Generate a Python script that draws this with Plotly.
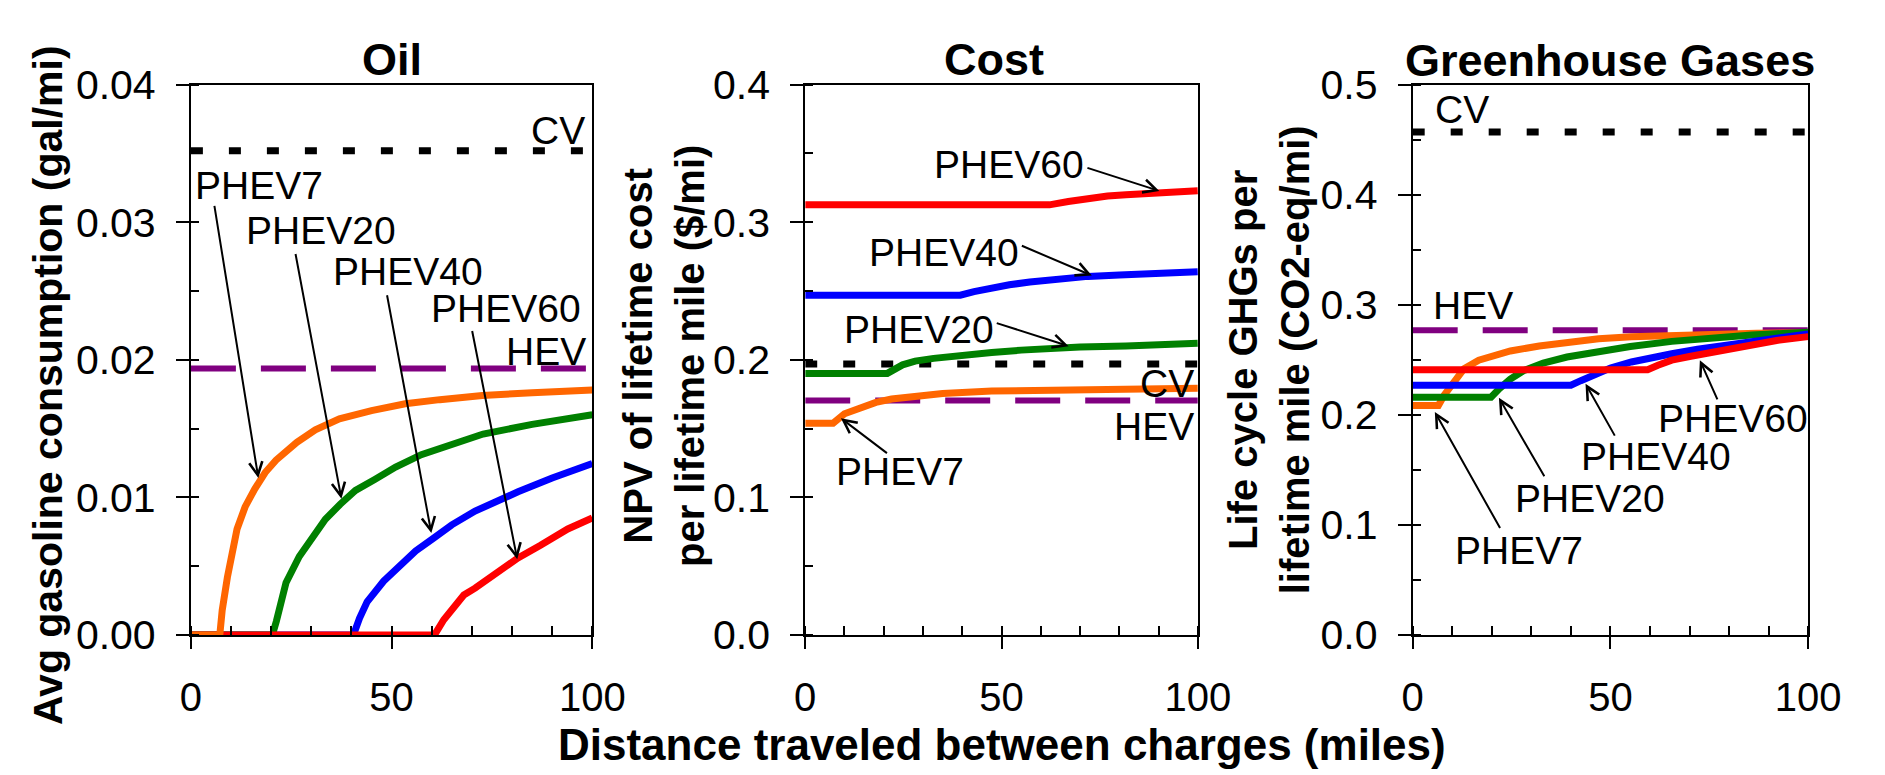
import plotly.graph_objects as go

# ---------------- DATA ----------------
# Oil panel (gal/mi)
oil_phev7_x = [0, 7.2, 7.8, 9.1, 11.5, 13.5, 15.9, 18.5, 21.2, 26.4, 31, 37.0, 45, 53.4, 62, 72.6, 85, 100]
oil_phev7_y = [0, 0, 0.0018, 0.0042, 0.0077, 0.0093, 0.0106, 0.0118, 0.0127, 0.0140, 0.0149, 0.0157, 0.0163, 0.0168, 0.0171, 0.0174, 0.0176, 0.0178]
oil_phev20_x = [0, 20.3, 21.3, 23.7, 27, 30.4, 33.5, 37.2, 41, 45.8, 51, 57.4, 65, 72.8, 85, 100]
oil_phev20_y = [0, 0, 0.0010, 0.0038, 0.0057, 0.0072, 0.0084, 0.0095, 0.0105, 0.0113, 0.0122, 0.0131, 0.0139, 0.0146, 0.0153, 0.0160]
oil_phev40_x = [0, 40.5, 42, 43.9, 48, 52.6, 56, 60.3, 65, 70.8, 76, 81.5, 90, 100]
oil_phev40_y = [0, 0, 0.0012, 0.0024, 0.0039, 0.0051, 0.0061, 0.0070, 0.0080, 0.0090, 0.0097, 0.0104, 0.0114, 0.01245]
oil_phev60_x = [0, 60.7, 63, 66.2, 68, 70.8, 76, 81.5, 87, 93.9, 100]
oil_phev60_y = [0, 0, 0.0011, 0.0022, 0.0029, 0.0034, 0.0045, 0.0056, 0.0065, 0.0077, 0.0085]
oil_cv = 0.0352
oil_hev = 0.01936

# Cost panel ($/mi)
cost_phev7_x = [0, 7.1, 10, 14, 18, 22, 27.7, 35, 47.5, 60, 75, 100]
cost_phev7_y = [0.1539, 0.1539, 0.1607, 0.1655, 0.169, 0.1715, 0.1737, 0.1755, 0.1772, 0.1778, 0.1785, 0.1792]
cost_phev20_x = [0, 20.9, 24.8, 28, 32.7, 40, 47.5, 55, 62.2, 70, 81.7, 90, 100]
cost_phev20_y = [0.1901, 0.1901, 0.1963, 0.199, 0.201, 0.2035, 0.2052, 0.207, 0.2086, 0.2092, 0.21, 0.2105, 0.212]
cost_phev40_x = [0, 39.5, 43, 47.5, 52, 57.2, 65, 72, 80, 86.7, 93, 100]
cost_phev40_y = [0.2469, 0.2469, 0.2495, 0.2523, 0.2545, 0.2565, 0.2587, 0.2606, 0.2616, 0.2626, 0.2632, 0.264]
cost_phev60_x = [0, 62.2, 67, 72, 77, 81.7, 86, 91.7, 100]
cost_phev60_y = [0.3126, 0.3126, 0.315, 0.3174, 0.319, 0.320, 0.3208, 0.3215, 0.3228]
cost_cv = 0.197
cost_hev = 0.1703

# Greenhouse gas panel (CO2-eq/mi)
ghg_phev7_x = [0, 6.5, 8, 10.6, 13, 16.7, 20, 24.7, 32, 40, 47, 55.3, 65, 75.6, 87, 100]
ghg_phev7_y = [0.2085, 0.2085, 0.218, 0.230, 0.242, 0.2496, 0.2535, 0.258, 0.2625, 0.2667, 0.269, 0.271, 0.2722, 0.2735, 0.2742, 0.2746]
ghg_phev20_x = [0, 19.8, 22, 24.7, 28, 33, 39, 45, 55, 65.5, 75, 85.7, 100]
ghg_phev20_y = [0.216, 0.216, 0.224, 0.2325, 0.24, 0.247, 0.2525, 0.2566, 0.262, 0.2667, 0.2698, 0.2726, 0.275]
ghg_phev40_x = [0, 40, 42.5, 45, 50, 55.3, 60, 65.5, 72, 80.8, 90, 100]
ghg_phev40_y = [0.2268, 0.2268, 0.231, 0.235, 0.2425, 0.248, 0.252, 0.2555, 0.2595, 0.264, 0.2685, 0.2735]
ghg_phev60_x = [0, 59.4, 62, 65.5, 70, 75.6, 80, 85.7, 92, 100]
ghg_phev60_y = [0.241, 0.241, 0.245, 0.2496, 0.253, 0.2564, 0.2595, 0.264, 0.2675, 0.271]
ghg_cv = 0.457
ghg_hev = 0.2767

x_range = [0, 100]
x_tickvals = [0, 50, 100]
x_ticktext = ["0", "50", "100"]
oil_tickvals = [0, 0.01, 0.02, 0.03, 0.04]
oil_ticktext = ["0.00", "0.01", "0.02", "0.03", "0.04"]
cost_tickvals = [0, 0.1, 0.2, 0.3, 0.4]
cost_ticktext = ["0.0", "0.1", "0.2", "0.3", "0.4"]
ghg_tickvals = [0, 0.1, 0.2, 0.3, 0.4, 0.5]
ghg_ticktext = ["0.0", "0.1", "0.2", "0.3", "0.4", "0.5"]

panel_titles = ["Oil", "Cost", "Greenhouse Gases"]
y_titles = ["Avg gasoline consumption (gal/mi)",
            "NPV of lifetime cost<br>per lifetime mile ($/mi)",
            "Life cycle GHGs per<br>lifetime mile (CO2-eq/mi)"]
x_title = "Distance traveled between charges (miles)"

# Labels: (text, x, y, xanchor) and arrows: (head_x, head_y, tail_x, tail_y)
oil_labels = [("CV", 98.6, 0.0367, "right"), ("HEV", 99.0, 0.0206, "right"),
              ("PHEV7", 17.0, 0.0327, "center"), ("PHEV20", 32.4, 0.0294, "center"),
              ("PHEV40", 54.0, 0.0264, "center"), ("PHEV60", 78.6, 0.0237, "center")]
oil_arrows = [(16.8, 0.0114, 5.8, 0.0313), (37.5, 0.0099, 26.0, 0.0278),
              (59.9, 0.0074, 48.8, 0.0248), (81.3, 0.0055, 70.0, 0.0222)]
cost_labels = [("CV", 99.5, 0.1826, "right"), ("HEV", 99.5, 0.1518, "right"),
               ("PHEV7", 24.1, 0.1188, "center"), ("PHEV20", 29.0, 0.222, "center"),
               ("PHEV40", 35.4, 0.2778, "center"), ("PHEV60", 51.9, 0.3417, "center")]
cost_arrows = [(9.1, 0.1575, 21.2, 0.1313), (67.1, 0.2099, 48.4, 0.227),
               (73.0, 0.2612, 54.8, 0.2833), (90.2, 0.3227, 71.5, 0.3398)]
ghg_labels = [("CV", 5.1, 0.4775, "left"), ("HEV", 4.6, 0.2989, "left"),
              ("PHEV7", 26.9, 0.0766, "center"), ("PHEV20", 44.7, 0.1242, "center"),
              ("PHEV40", 61.4, 0.1621, "center"), ("PHEV60", 80.9, 0.1963, "center")]
ghg_arrows = [(5.6, 0.2026, 22.3, 0.0957), (21.8, 0.2154, 33.5, 0.1427),
              (43.7, 0.2282, 51.3, 0.1797), (72.6, 0.2496, 77.2, 0.2126)]

# ---------------- STYLE ----------------
W, H = 1885, 775
FONT = "Liberation Sans, Arial, Helvetica, sans-serif"
C_ORANGE, C_GREEN, C_BLUE, C_RED = "#FF6600", "#008000", "#0000FF", "#FF0000"
C_PURPLE = "#800080"

frames_px = [(176, 587), (805, 1207), (1427, 1832)]
top_px, bot_px = 57, 642

fig = go.Figure()


def line(x, y, color, ax, dash="solid", width=7):
    fig.add_trace(go.Scatter(x=x, y=y, mode="lines", xaxis=ax[0], yaxis=ax[1],
                             line=dict(color=color, width=width, dash=dash),
                             showlegend=False, hoverinfo="skip"))


CV_DASH = "12px,26px"
HEV_DASH = "45px,25px"

# Panel 1
a1 = ("x", "y")
line(x_range, [oil_cv, oil_cv], "black", a1, CV_DASH, 7)
line(x_range, [oil_hev, oil_hev], C_PURPLE, a1, HEV_DASH, 6)
line(oil_phev40_x, oil_phev40_y, C_BLUE, a1)
line(oil_phev20_x, oil_phev20_y, C_GREEN, a1)
line(oil_phev60_x, oil_phev60_y, C_RED, a1)
line(oil_phev7_x, oil_phev7_y, C_ORANGE, a1)

# Panel 2
a2 = ("x2", "y2")
line(x_range, [cost_cv, cost_cv], "black", a2, CV_DASH, 7)
line(x_range, [cost_hev, cost_hev], C_PURPLE, a2, HEV_DASH, 6)
line(cost_phev60_x, cost_phev60_y, C_RED, a2)
line(cost_phev40_x, cost_phev40_y, C_BLUE, a2)
line(cost_phev20_x, cost_phev20_y, C_GREEN, a2)
line(cost_phev7_x, cost_phev7_y, C_ORANGE, a2)

# Panel 3
a3 = ("x3", "y3")
line(x_range, [ghg_cv, ghg_cv], "black", a3, CV_DASH, 7)
line(x_range, [ghg_hev, ghg_hev], C_PURPLE, a3, HEV_DASH, 6)
line(ghg_phev7_x, ghg_phev7_y, C_ORANGE, a3)
line(ghg_phev20_x, ghg_phev20_y, C_GREEN, a3)
line(ghg_phev40_x, ghg_phev40_y, C_BLUE, a3)
line(ghg_phev60_x, ghg_phev60_y, C_RED, a3)

ydom = [(H - bot_px) / H, (H - top_px) / H]


def xaxis_def(i):
    x0, x1 = frames_px[i]
    return dict(domain=[x0 / W, x1 / W], range=x_range, tickvals=x_tickvals, ticktext=x_ticktext,
                ticks="outside", ticklen=12, tickwidth=2, tickcolor="black",
                minor=dict(ticks="inside", ticklen=9, dtick=10, tick0=0, tickwidth=1.5, tickcolor="black"),
                showline=True, linecolor="black", linewidth=2, mirror=True,
                showgrid=False, zeroline=False, ticklabelstandoff=14,
                tickfont=dict(family=FONT, size=40, color="black"),
                anchor=["y", "y2", "y3"][i])


def yaxis_def(i, tv, tt, rng, minor_dtick):
    return dict(domain=ydom, range=rng, tickvals=tv, ticktext=tt,
                ticks="outside", ticklen=13, tickwidth=2, tickcolor="black",
                minor=dict(ticks="inside", ticklen=8, dtick=minor_dtick, tick0=0, tickwidth=1.5, tickcolor="black"),
                showline=True, linecolor="black", linewidth=2, mirror=True,
                showgrid=False, zeroline=False, ticklabelstandoff=12,
                tickfont=dict(family=FONT, size=41, color="black"),
                anchor=["x", "x2", "x3"][i])


annotations = []
lab_font = dict(family=FONT, size=39, color="black")
for (labels, arrows, xr, yr) in [(oil_labels, oil_arrows, "x", "y"),
                                 (cost_labels, cost_arrows, "x2", "y2"),
                                 (ghg_labels, ghg_arrows, "x3", "y3")]:
    for (t, lx, ly, anc) in labels:
        annotations.append(dict(text=t, x=lx, y=ly, xref=xr, yref=yr, showarrow=False,
                                xanchor=anc, yanchor="middle", font=lab_font))
    for (hx, hy, tx, ty) in arrows:
        annotations.append(dict(text="", x=hx, y=hy, ax=tx, ay=ty, xref=xr, yref=yr,
                                axref=xr, ayref=yr, showarrow=True, arrowhead=5,
                                arrowsize=1.3, arrowwidth=2, arrowcolor="black",
                                standoff=0, startstandoff=0))

bold = dict(family=FONT, size=45, color="black", weight="bold")
title_pos = [(382, 30), (998, 30), (1629, 31)]
for t, (px, py) in zip(panel_titles, title_pos):
    annotations.append(dict(text=t, x=px / W, y=(H - py) / H, xref="paper", yref="paper",
                            showarrow=False, xanchor="center", yanchor="middle", font=bold))

ytitle_pos = [(29, 376), (661, 346), (1280, 350)]
ytitle_sizes = [41, 40, 40]
for t, (px, py), fs in zip(y_titles, ytitle_pos, ytitle_sizes):
    annotations.append(dict(text=t, x=px / W, y=(H - py) / H, xref="paper", yref="paper",
                            showarrow=False, xanchor="center", yanchor="middle",
                            textangle=-90,
                            font=dict(family=FONT, size=fs, color="black", weight="bold")))

annotations.append(dict(text=x_title, x=1007 / W, y=(H - 758) / H, xref="paper", yref="paper",
                        showarrow=False, xanchor="center", yanchor="middle",
                        font=dict(family=FONT, size=44, color="black", weight="bold")))

fig.update_layout(
    width=W, height=H, margin=dict(l=0, r=0, t=0, b=0),
    paper_bgcolor="white", plot_bgcolor="white",
    xaxis=xaxis_def(0), xaxis2=xaxis_def(1), xaxis3=xaxis_def(2),
    yaxis=yaxis_def(0, oil_tickvals, oil_ticktext, [0, 0.04], 0.005),
    yaxis2=yaxis_def(1, cost_tickvals, cost_ticktext, [0, 0.4], 0.05),
    yaxis3=yaxis_def(2, ghg_tickvals, ghg_ticktext, [0, 0.5], 0.05),
    annotations=annotations,
    font=dict(family=FONT, color="black"),
)

fig.write_html("out.html")
